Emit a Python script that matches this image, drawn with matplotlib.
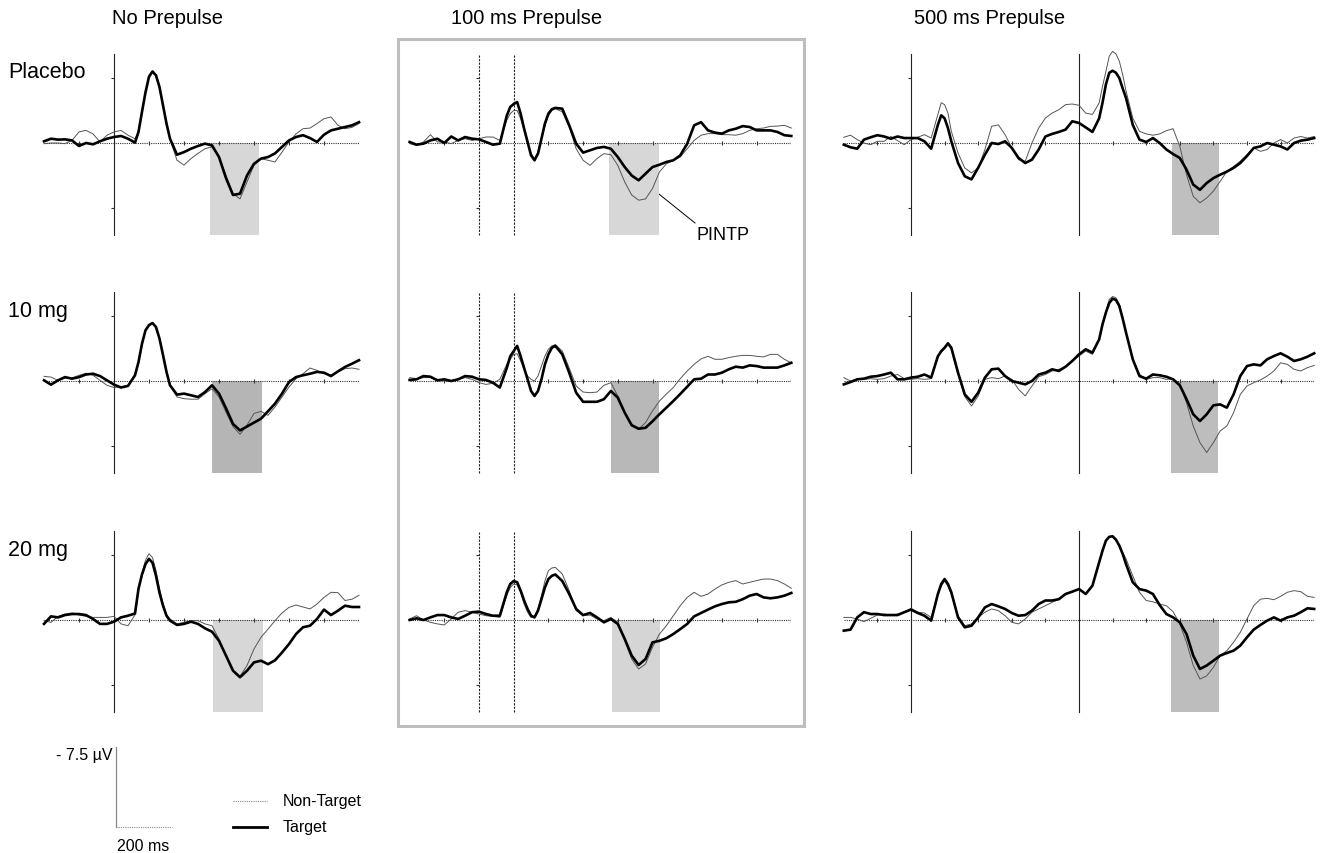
import matplotlib.pyplot as plt
from matplotlib.patches import Rectangle

W, H = 1337, 854
PX_PER_UV = 13.0

# time grids (ms from first stimulus)
t_none = [-200, -180, -160, -140, -120, -100, -80, -60, -40, -20,
          0, 20, 40, 60, 70, 80, 90, 100, 110, 120, 130, 140, 150, 160, 180,
          200, 220, 240, 260, 280, 300, 320, 340, 360, 380,
          400, 420, 440, 460, 480, 500, 520, 540, 560, 580,
          600, 620, 640, 660, 680, 700]

t_100 = [-200, -180, -160, -140, -120, -100, -80, -60, -40, -20,
         0, 20, 40, 60, 80, 90, 100, 110, 120, 130, 140, 150, 160, 170, 180, 190,
         200, 210, 220, 240, 260, 280, 300, 320, 340, 360, 380,
         400, 420, 440, 460, 480, 500, 520, 540, 560, 580,
         600, 620, 640, 660, 680, 700, 720, 740, 760, 780,
         800, 820, 840, 860, 880, 900]

t_500 = [-200, -180, -160, -140, -120, -100, -80, -60, -40, -20,
         0, 20, 40, 60, 80, 90, 100, 110, 120, 140, 160, 180,
         200, 220, 240, 260, 280, 300, 320, 340, 360, 380,
         400, 420, 440, 460, 480, 500, 520, 540, 560, 570, 580, 590,
         600, 610, 620, 630, 640, 660, 680, 700, 720, 740, 760, 780,
         800, 820, 840, 860, 880, 900, 920, 940, 960, 980,
         1000, 1020, 1040, 1060, 1080, 1100, 1120, 1140, 1160, 1180,
         1200]

# amplitudes (uV, negativity plotted up)
none_placebo_target = [0.13, 0.33, 0.26, 0.28, 0.2, -0.23, 0.0, -0.1, 0.13, 0.33,
                       0.46, 0.54, 0.33, 0.03, 0.85, 2.4, 3.9, 5.1, 5.5, 5.2, 4.3, 2.9, 1.5, 0.33, -0.9,
                       -0.7, -0.44, -0.23, -0.05, -0.18, -1.08, -2.7, -4.0, -3.9, -2.5,
                       -1.6, -1.2, -1.08, -0.8, -0.3, 0.2, 0.46, 0.6, 0.38, 0.08,
                       0.64, 0.97, 1.1, 1.23, 1.36, 1.6]
none_placebo_nontarget = [-0.05, 0.0, 0.0, -0.05, 0.2, 0.85, 0.97, 0.7, 0.08, 0.6,
                          0.85, 0.97, 0.6, 0.33, 0.9, 2.4, 3.9, 5.2, 5.5, 5.25, 4.3, 2.9, 1.4, 0.3, -1.33,
                          -1.7, -1.2, -0.8, -0.44, -0.3, -1.1, -2.5, -3.9, -4.3, -3.0,
                          -1.7, -1.2, -1.33, -1.46, -0.7, 0.08, 0.7, 1.1, 1.15, 1.5,
                          1.87, 2.0, 1.36, 1.1, 1.2, 1.5]
none_10mg_target = [0.05, -0.28, 0.05, 0.3, 0.18, 0.3, 0.5, 0.56, 0.38, 0.05,
                    -0.28, -0.5, -0.38, 0.44, 1.46, 2.87, 3.9, 4.3, 4.46, 4.15, 3.26, 2.0, 0.7, -0.33, -1.05,
                    -0.97, -1.1, -1.23, -0.85, -0.33, -0.97, -2.1, -3.3, -3.8, -3.5,
                    -3.2, -2.9, -2.33, -1.74, -0.97, -0.08, 0.3, 0.44, 0.56, 0.7,
                    0.64, 0.38, 0.74, 1.08, 1.33, 1.6]
none_10mg_nontarget = [0.36, 0.3, 0.05, 0.23, 0.23, 0.44, 0.6, 0.44, 0.05, -0.33,
                       -0.5, -0.46, -0.33, 0.44, 1.46, 2.87, 3.9, 4.3, 4.46, 4.15, 3.26, 2.0, 0.7, -0.33, -1.23,
                       -1.36, -1.4, -1.4, -0.97, -0.6, -1.23, -2.4, -3.5, -4.1, -3.4,
                       -2.5, -2.33, -2.64, -2.0, -1.23, -0.46, 0.18, 0.56, 1.0, 0.82,
                       0.56, 0.44, 0.7, 0.95, 1.0, 0.9]
none_20mg_target = [-0.3, 0.28, 0.2, 0.38, 0.46, 0.46, 0.38, 0.08, -0.3, -0.3,
                    -0.13, 0.2, 0.33, 0.5, 2.4, 3.5, 4.3, 4.7, 4.4, 3.4, 2.1, 1.1, 0.33, -0.05, -0.38,
                    -0.3, -0.13, -0.3, -0.64, -0.9, -1.6, -2.74, -3.9, -4.4, -3.9,
                    -3.26, -3.13, -3.4, -3.1, -2.5, -1.85, -1.08, -0.56, -0.44, 0.08,
                    0.8, 0.38, 0.72, 1.1, 1.0, 1.0]
none_20mg_nontarget = [-0.05, -0.18, 0.28, 0.46, 0.54, 0.38, 0.28, 0.2, 0.2, 0.2,
                       0.28, -0.3, -0.44, 0.4, 2.4, 3.6, 4.6, 5.1, 4.8, 3.8, 2.4, 1.3, 0.4, 0.08, -0.3,
                       -0.18, -0.05, -0.05, -0.3, -0.44, -1.46, -2.74, -3.9, -4.33, -3.5,
                       -2.23, -1.33, -0.7, -0.05, 0.54, 0.97, 1.15, 1.0, 0.85, 1.23,
                       1.74, 2.13, 2.1, 1.5, 1.6, 1.9]

pp100_placebo_target = [0.08, -0.13, -0.05, 0.2, 0.33, 0.0, 0.5, 0.2, 0.46, 0.33,
                        0.28, 0.08, -0.13, -0.05, 2.1, 2.77, 3.0, 3.15, 2.26, 1.1, 0.08, -0.95, -1.33, -0.82, 0.33, 1.5,
                        2.26, 2.6, 2.7, 2.64, 1.36, -0.05, -0.74, -0.56, -0.38, -0.3, -0.44,
                        -1.08, -1.85, -2.5, -2.87, -2.36, -1.85, -1.67, -1.46, -1.33, -0.95,
                        -0.05, 1.36, 1.6, 0.97, 0.8, 0.72, 0.97, 1.1, 1.3, 1.23,
                        0.97, 0.97, 0.97, 0.85, 0.6, 0.54]
pp100_placebo_nontarget = [-0.05, -0.18, 0.08, 0.64, 0.08, 0.08, -0.05, 0.2, 0.33, 0.2,
                           0.33, 0.46, 0.46, 0.2, 1.74, 2.26, 2.5, 2.5, 1.87, 0.97, -0.05, -0.8, -1.2, -0.7, 0.33, 1.36,
                           2.1, 2.5, 2.64, 2.4, 1.23, -0.44, -1.33, -1.72, -1.2, -0.82, -0.9,
                           -1.72, -3.0, -4.0, -4.4, -4.3, -3.5, -2.23, -1.6, -1.33, -1.08,
                           -0.44, 0.2, 0.6, 0.72, 0.72, 0.64, 0.64, 0.6, 0.72, 0.97,
                           1.1, 1.15, 1.28, 1.3, 1.36, 1.15]
pp100_10mg_target = [0.08, 0.13, 0.38, 0.33, 0.05, 0.13, 0.0, 0.13, 0.38, 0.33,
                     0.13, 0.08, -0.13, -0.5, 1.0, 1.9, 2.3, 2.7, 1.9, 1.0, 0.13, -0.77, -1.15, -0.77, 0.13, 1.28,
                     2.05, 2.56, 2.7, 2.05, 0.64, -0.9, -1.6, -1.6, -1.6, -1.4, -0.77,
                     -1.28, -2.44, -3.4, -3.67, -3.6, -3.1, -2.56, -2.05, -1.54, -1.0,
                     -0.44, 0.13, 0.18, 0.5, 0.5, 0.64, 0.9, 1.1, 1.03, 1.2,
                     1.15, 1.03, 1.03, 1.03, 1.2, 1.4]
pp100_10mg_nontarget = [0.26, 0.18, 0.26, 0.26, 0.13, 0.0, 0.0, 0.13, 0.26, 0.13,
                        -0.13, -0.26, -0.18, 0.13, 1.28, 1.67, 2.05, 2.1, 1.54, 0.9, 0.38, 0.13, 0.0, 0.38, 1.15, 1.92,
                        2.44, 2.7, 2.8, 2.3, 1.0, -0.38, -0.85, -0.9, -0.85, -0.33, -0.13,
                        -1.15, -2.44, -3.46, -3.7, -3.2, -2.3, -1.54, -1.0, -0.5, 0.18,
                        0.77, 1.28, 1.7, 1.9, 1.67, 1.67, 1.8, 1.9, 1.97, 1.97,
                        1.9, 1.85, 2.05, 2.05, 1.67, 1.4]
pp100_20mg_target = [0.0, 0.13, 0.0, 0.2, 0.38, 0.38, 0.2, 0.08, 0.33, 0.6,
                     0.64, 0.46, 0.33, 0.33, 2.13, 2.77, 3.0, 2.9, 2.26, 1.5, 0.85, 0.33, 0.2, 0.72, 1.6, 2.5,
                     3.15, 3.4, 3.5, 3.0, 2.0, 0.85, 0.38, 0.54, 0.2, -0.18, 0.08,
                     -0.3, -1.46, -2.74, -3.46, -3.0, -1.72, -1.6, -1.4, -1.08, -0.7,
                     -0.3, 0.28, 0.54, 0.8, 1.05, 1.23, 1.36, 1.4, 1.6, 1.87,
                     2.0, 1.74, 1.67, 1.74, 1.87, 2.08]
pp100_20mg_nontarget = [0.08, 0.33, 0.0, -0.18, -0.3, -0.38, 0.08, 0.6, 0.72, 0.6,
                        0.46, 0.33, 0.28, 0.2, 1.87, 2.5, 2.77, 2.7, 2.13, 1.23, 0.6, 0.2, 0.28, 0.85, 1.87, 3.0,
                        3.8, 4.0, 4.05, 3.54, 2.26, 0.72, 0.33, 0.38, 0.08, -0.05, 0.2,
                        -0.18, -1.6, -3.0, -3.77, -3.38, -2.1, -1.08, -0.44, 0.33, 1.1,
                        1.74, 2.13, 1.82, 2.0, 2.38, 2.7, 2.9, 3.03, 2.77, 2.9,
                        3.03, 3.15, 3.15, 3.03, 2.77, 2.44]

pp500_placebo_target = [-0.13, -0.33, -0.44, 0.26, 0.44, 0.6, 0.5, 0.33, 0.5, 0.38,
                        0.38, 0.38, 0.13, -0.44, 1.4, 2.13, 1.9, 1.15, 0.13, -1.54, -2.56, -2.8,
                        -1.9, -0.9, 0.0, -0.08, 0.13, -0.38, -1.15, -1.54, -1.28, -0.5,
                        0.5, 0.7, 0.85, 1.03, 1.67, 1.54, 1.2, 0.85, 1.9, 3.1, 4.5, 5.4,
                        5.56, 5.4, 5.0, 4.2, 3.46, 1.4, 0.26, 0.08, 0.38, 0.0, -0.5, -0.85,
                        -1.15, -2.05, -3.2, -3.6, -3.08, -2.7, -2.44, -2.2, -1.92, -1.54,
                        -1.0, -0.38, -0.26, 0.0, -0.13, -0.26, -0.5, 0.0, 0.18, 0.26,
                        0.38]
pp500_placebo_nontarget = [0.44, 0.6, 0.26, 0.0, -0.13, 0.13, 0.13, 0.5, 0.18, -0.13,
                           0.26, 0.44, 0.64, 0.38, 2.2, 3.1, 2.95, 2.3, 0.9, -0.77, -1.92, -2.3,
                           -1.92, -0.5, 1.28, 1.4, 0.64, -0.38, -1.28, -1.4, 0.0, 1.15,
                           1.92, 2.3, 2.56, 2.95, 3.0, 2.9, 2.3, 2.2, 3.08, 4.36, 5.5, 6.67,
                           7.05, 6.85, 6.3, 5.26, 4.0, 1.92, 0.9, 0.7, 0.6, 0.7, 0.95, 1.1,
                           -0.26, -2.44, -4.1, -4.6, -4.23, -3.7, -2.95, -2.2, -1.8, -1.4,
                           -0.9, -0.38, -0.64, -0.5, 0.0, 0.26, 0.0, 0.38, 0.5, 0.38,
                           0.5]
pp500_10mg_target = [-0.26, -0.08, 0.13, 0.18, 0.33, 0.38, 0.5, 0.64, 0.13, 0.13,
                     0.26, 0.33, 0.5, 0.26, 1.9, 2.3, 2.56, 2.9, 2.56, 0.64, -1.03, -1.6,
                     -0.9, 0.26, 0.9, 0.95, 0.38, 0.0, -0.13, -0.26, 0.0, 0.5,
                     0.64, 0.9, 0.77, 1.1, 1.54, 2.05, 2.44, 2.18, 3.2, 4.36, 5.26, 6.0,
                     6.33, 6.23, 5.77, 4.8, 3.72, 1.67, 0.38, 0.18, 0.5, 0.44, 0.33, 0.13,
                     -0.33, -1.4, -2.56, -3.08, -2.56, -1.87, -1.8, -2.05, -1.03, 0.38,
                     1.15, 1.28, 1.2, 1.67, 1.92, 2.13, 1.87, 1.54, 1.67, 1.87,
                     2.13]
pp500_10mg_nontarget = [0.26, 0.0, 0.13, 0.13, 0.18, 0.13, 0.18, 0.38, 0.5, 0.18,
                        0.13, 0.18, 0.13, 0.18, 1.9, 2.2, 2.5, 2.8, 2.44, 0.5, -1.2, -1.92,
                        -1.15, 0.13, 0.26, 0.18, 0.38, 0.13, -0.64, -1.15, -0.38, 0.33,
                        0.5, 0.77, 0.9, 1.1, 1.54, 1.92, 2.3, 2.05, 3.2, 4.4, 5.3, 6.28,
                        6.5, 6.4, 5.9, 4.87, 3.72, 1.67, 0.5, 0.13, 0.26, 0.26, 0.13, 0.18,
                        -0.26, -1.67, -3.46, -4.74, -5.5, -4.74, -3.85, -3.46, -2.44, -1.03,
                        -0.38, -0.13, 0.08, 0.38, 0.77, 1.4, 1.28, 0.9, 0.77, 1.03,
                        1.2]
pp500_20mg_target = [-0.82, -0.74, 0.2, 0.6, 0.46, 0.46, 0.38, 0.38, 0.38, 0.6,
                     0.8, 0.54, 0.33, -0.05, 2.0, 2.77, 3.15, 2.77, 2.13, 0.2, -0.56, -0.44,
                     0.2, 0.97, 1.23, 1.05, 0.85, 0.54, 0.33, 0.38, 0.72, 1.23,
                     1.5, 1.5, 1.6, 2.0, 2.18, 2.38, 2.0, 2.64, 4.44, 5.33, 6.1, 6.4,
                     6.44, 6.18, 5.72, 5.08, 4.3, 2.9, 2.38, 2.26, 2.0, 1.15, 0.46, 0.2,
                     -0.18, -1.08, -2.74, -3.77, -3.5, -3.13, -2.74, -2.54, -2.36, -1.97,
                     -1.33, -0.74, -0.38, -0.05, 0.2, -0.05, 0.2, 0.33, 0.6, 0.9,
                     0.85]
pp500_20mg_nontarget = [0.2, 0.2, 0.08, -0.13, 0.13, 0.38, 0.46, 0.38, 0.46, 0.6,
                        0.9, 0.6, 0.54, 0.2, 2.0, 2.6, 3.0, 2.6, 2.0, 0.33, -0.44, -0.3,
                        0.2, 0.6, 0.85, 0.72, 0.33, -0.18, -0.3, 0.08, 0.6, 0.85,
                        1.1, 1.36, 1.6, 2.0, 2.18, 2.38, 2.0, 2.64, 4.44, 5.33, 6.1, 6.4,
                        6.44, 6.18, 5.72, 5.2, 4.7, 3.4, 2.13, 1.5, 1.4, 1.23, 1.1, 0.64,
                        -0.3, -1.72, -3.5, -4.54, -4.3, -3.64, -2.74, -2.36, -1.72, -0.95,
                        0.08, 1.1, 1.6, 1.67, 1.56, 1.82, 2.13, 2.26, 2.18, 1.82,
                        1.74]

# PINTP window (ms after startle) per panel, [row][col]
windows = [[(274, 414), (275, 419), (277, 417)],
           [(280, 423), (280, 419), (275, 413)],
           [(283, 426), (284, 423), (274, 418)]]
window_colors = [["#d7d7d7", "#d7d7d7", "#bfbfbf"],
                 ["#b5b5b5", "#b8b8b8", "#bdbdbd"],
                 ["#d7d7d7", "#d5d5d5", "#bdbdbd"]]

col_titles = ["No Prepulse", "100 ms Prepulse", "500 ms Prepulse"]
row_labels = ["Placebo", "10 mg", "20 mg"]

traces = [
    [(none_placebo_target, none_placebo_nontarget),
     (pp100_placebo_target, pp100_placebo_nontarget),
     (pp500_placebo_target, pp500_placebo_nontarget)],
    [(none_10mg_target, none_10mg_nontarget),
     (pp100_10mg_target, pp100_10mg_nontarget),
     (pp500_10mg_target, pp500_10mg_nontarget)],
    [(none_20mg_target, none_20mg_nontarget),
     (pp100_20mg_target, pp100_20mg_nontarget),
     (pp500_20mg_target, pp500_20mg_nontarget)],
]

# layout of each column in pixels
columns = [
    dict(t=t_none, tmin=-200, tmax=700, left=44.0, ppm=0.350, marks=[0], startle=0,
         ls="-", title_x=168),
    dict(t=t_100, tmin=-200, tmax=900, left=409.6, ppm=0.347, marks=[0, 100], startle=100,
         ls=(0, (2, 1.2)), title_x=527),
    dict(t=t_500, tmin=-200, tmax=1200, left=843.8, ppm=0.336, marks=[0, 500], startle=500,
         ls="-", title_x=990),
]
row_zero = [144, 382, 621]
row_label_y = [73, 312, 551]

fig = plt.figure(figsize=(W / 100, H / 100), dpi=100)

ov = fig.add_axes([0, 0, 1, 1])
ov.set_xlim(0, W)
ov.set_ylim(H, 0)
ov.axis("off")

font = "Liberation Sans"

ov.add_patch(Rectangle((398, 40), 406, 687, fill=False, edgecolor="#bdbdbd", lw=2.2))

for c, col in enumerate(columns):
    ov.text(col["title_x"], 19, col_titles[c], ha="center", va="center",
            fontsize=14.5, family=font)

for r in range(3):
    ov.text(8, row_label_y[r], row_labels[r], ha="left", va="center",
            fontsize=15.5, family=font)

    for c, col in enumerate(columns):
        w = (col["tmax"] - col["tmin"]) * col["ppm"]
        h = 15 * PX_PER_UV
        bottom = H - (row_zero[r] + 7.5 * PX_PER_UV)
        ax = fig.add_axes([col["left"] / W, bottom / H, w / W, h / H])
        ax.set_xlim(col["tmin"], col["tmax"])
        ax.set_ylim(-7.5, 7.5)
        ax.axis("off")

        s0, s1 = windows[r][c]
        ax.fill_between([col["startle"] + s0, col["startle"] + s1], -7.05, 0,
                        color=window_colors[r][c], lw=0, zorder=1)

        ax.axhline(0, color="#333333", lw=0.8, ls=(0, (1, 1)), zorder=2)
        for m in col["marks"]:
            ax.plot([m, m], [-7.05, 6.85], color="#222222", lw=0.8,
                    ls=col["ls"], zorder=2)
        ticks = [x for x in range(-100, col["tmax"] + 1, 100) if x not in col["marks"]]
        ax.vlines(ticks, -0.15, 0.15, color="#333333", lw=0.8, zorder=2)
        ax.hlines([5, -5], -8, 0, color="#333333", lw=0.8, zorder=2)

        target, nontarget = traces[r][c]
        ax.plot(col["t"], nontarget, color="#555555", lw=0.7, zorder=3,
                clip_on=False, solid_joinstyle="round")
        ax.plot(col["t"], target, color="black", lw=1.9, zorder=4,
                solid_joinstyle="round", clip_on=False)

# PINTP label
ov.plot([644, 695], [183, 224], color="black", lw=0.7)
ov.text(697, 236, "PINTP", ha="left", va="center", fontsize=13, family=font)

# calibration bars
ov.plot([116, 116], [748, 828], color="#888888", lw=0.9)
ov.plot([116, 172], [828, 828], color="#888888", lw=0.8, ls=(0, (1, 1)))
ov.text(112, 756, "- 7.5 \u00b5V", ha="right", va="center", fontsize=11.5, family=font)
ov.text(117, 847, "200 ms", ha="left", va="center", fontsize=11.5, family=font)

# legend
ov.plot([233, 267], [802, 802], color="#888888", lw=0.8, ls=(0, (1, 1)))
ov.text(283, 802, "Non-Target", ha="left", va="center", fontsize=11.5, family=font)
ov.plot([233, 267], [828, 828], color="black", lw=2.0)
ov.text(283, 828, "Target", ha="left", va="center", fontsize=11.5, family=font)

fig.savefig("out.png", dpi=100)
